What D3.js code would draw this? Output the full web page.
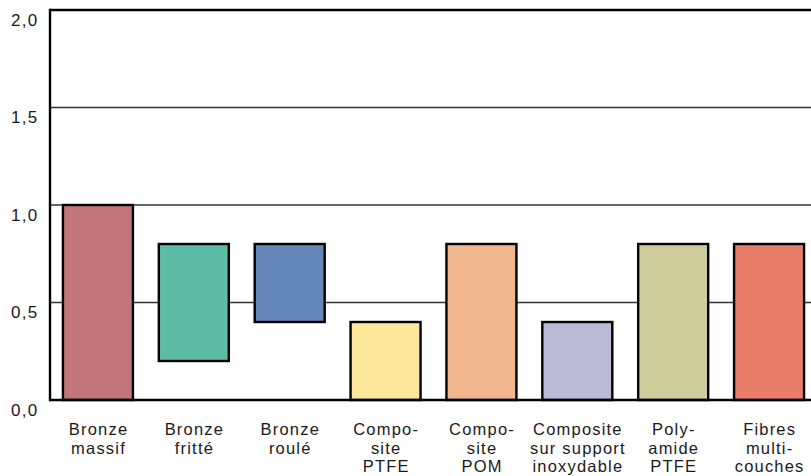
<!DOCTYPE html>
<html>
<head>
<meta charset="utf-8">
<script src="https://cdn.jsdelivr.net/npm/d3@7"></script>
<style>
  html, body { margin: 0; padding: 0; background: #fff; }
  svg { display: block; }
  text { font-family: "Liberation Sans", Arial, Helvetica, sans-serif; }
</style>
</head>
<body>
<svg id="chart" width="811" height="476"></svg>
<script>
const categories = [
  ["Bronze", "massif"],
  ["Bronze", "fritté"],
  ["Bronze", "roulé"],
  ["Compo-", "site", "PTFE"],
  ["Compo-", "site", "POM"],
  ["Composite", "sur support", "inoxydable"],
  ["Poly-", "amide", "PTFE"],
  ["Fibres", "multi-", "couches"]
];
const lowValues  = [0.0, 0.2, 0.4, 0.0, 0.0, 0.0, 0.0, 0.0];
const highValues = [1.0, 0.8, 0.8, 0.4, 0.8, 0.4, 0.8, 0.8];
const colors = ["#c2767b", "#5dbca5", "#6586b8", "#fde79a", "#f1b78f", "#bcbbd7", "#cecd9b", "#e87e69"];
const yTicks = [0, 0.5, 1.0, 1.5, 2.0];
const yTickLabels = ["0,0", "0,5", "1,0", "1,5", "2,0"];

(function () {
const svg = d3.select("#chart");
const mLeft = 50, mTop = 10, mBottom = 400, mRight = 817;

const x = d3.scaleBand()
  .domain(d3.range(categories.length))
  .range([mLeft, mRight])
  .paddingInner(0.27)
  .paddingOuter(0.135);

const y = d3.scaleLinear().domain([0, 2]).range([mBottom, mTop]);

// gridlines
svg.append("g")
  .selectAll("line")
  .data(yTicks.filter(d => d > 0 && d < 2))
  .join("line")
  .attr("x1", mLeft).attr("x2", 811)
  .attr("y1", d => y(d)).attr("y2", d => y(d))
  .attr("stroke", "#333").attr("stroke-width", 1.3);

// bars
svg.append("g")
  .selectAll("rect")
  .data(categories.map((c, i) => i))
  .join("rect")
  .attr("x", i => x(i))
  .attr("width", x.bandwidth())
  .attr("y", i => y(highValues[i]))
  .attr("height", i => y(lowValues[i]) - y(highValues[i]))
  .attr("fill", i => colors[i])
  .attr("stroke", "#000")
  .attr("stroke-width", 2.4);

// frame lines (left, top, bottom)
svg.append("line").attr("x1", mLeft).attr("x2", mLeft).attr("y1", mTop - 1.2).attr("y2", mBottom + 1.2)
  .attr("stroke", "#000").attr("stroke-width", 2.4);
svg.append("line").attr("x1", mLeft).attr("x2", 811).attr("y1", mTop).attr("y2", mTop)
  .attr("stroke", "#000").attr("stroke-width", 2.4);
svg.append("line").attr("x1", mLeft).attr("x2", 811).attr("y1", mBottom).attr("y2", mBottom)
  .attr("stroke", "#000").attr("stroke-width", 2.4);

// y tick labels
svg.append("g")
  .selectAll("text")
  .data(yTicks)
  .join("text")
  .attr("x", 38.5)
  .attr("y", d => y(d) + 15.5)
  .attr("text-anchor", "end")
  .attr("font-size", 17)
  .attr("letter-spacing", 1.3)
  .attr("fill", "#1a1a1a")
  .text((d, i) => yTickLabels[i]);

// x labels
const xl = svg.append("g")
  .selectAll("text")
  .data(categories)
  .join("text")
  .attr("x", (d, i) => x(i) + x.bandwidth() / 2 + 0.6)
  .attr("y", 435)
  .attr("text-anchor", "middle")
  .attr("font-size", 16.5)
  .attr("letter-spacing", 1.2)
  .attr("fill", "#1a1a1a");
xl.selectAll("tspan")
  .data(d => d)
  .join("tspan")
  .attr("x", function () { return d3.select(this.parentNode).attr("x"); })
  .attr("dy", (d, i) => i === 0 ? 0 : 18.5)
  .text(d => d);
})();
</script>
</body>
</html>
